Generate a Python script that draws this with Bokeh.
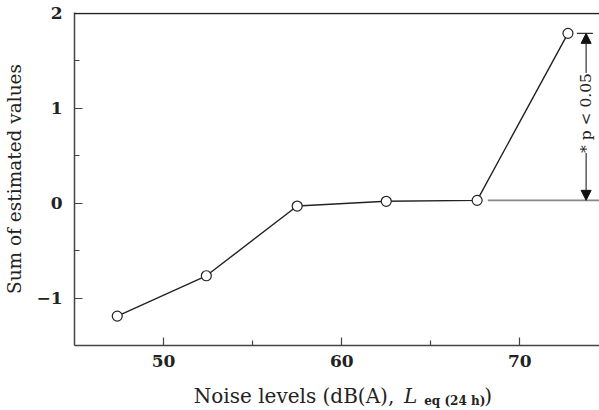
import math
from bokeh.plotting import figure
from bokeh.layouts import column
from bokeh.models import (Range1d, FixedTicker, Span, Label, Arrow, NormalHead,
                          ColumnDataSource)
from bokeh.embed import file_html
from bokeh.resources import INLINE

# ---- data ----
noise_levels = [47.4, 52.4, 57.5, 62.5, 67.6, 72.7]
sum_estimated = [-1.19, -0.765, -0.03, 0.02, 0.03, 1.79]
x_ticks = [50, 60, 70]
x_minor = [55, 65]
y_ticks = [-1, 0, 1, 2]
y_minor = [-0.5, 0.5, 1.5]
y_tick_labels = {-1: "\u22121", 0: "0", 1: "1", 2: "2"}
y_title = "Sum of estimated values"
x_title_main = "Noise levels (dB(A),"
x_title_var = "L"
x_title_sub = "eq (24 h)"
x_title_end = ")"
sig_text = "* p < 0.05"

FONT = "DejaVu Serif"
INK = "#222222"

p = figure(width=599, height=380, output_backend="svg", toolbar_location=None,
           x_range=Range1d(45, 74.47), y_range=Range1d(-1.5, 2.01),
           min_border_left=74, min_border_top=12, min_border_bottom=35,
           min_border_right=0)
p.outline_line_color = None
p.grid.visible = False

for ax in (p.xaxis[0], p.yaxis[0]):
    ax.axis_line_color = "#444444"
    ax.axis_line_width = 1.5
    ax.major_tick_line_color = "#444444"
    ax.minor_tick_line_color = "#444444"
    ax.major_tick_line_width = 1.2
    ax.minor_tick_line_width = 1.2
    ax.major_tick_in = 8
    ax.major_tick_out = 0
    ax.minor_tick_in = 5
    ax.minor_tick_out = 0
    ax.major_label_text_font = FONT
    ax.major_label_text_font_size = "17px"
    ax.major_label_text_font_style = "bold"
    ax.major_label_text_color = INK

p.xaxis[0].major_label_standoff = 9
p.yaxis[0].major_label_standoff = 12
p.xaxis[0].ticker = FixedTicker(ticks=x_ticks, minor_ticks=x_minor)
p.yaxis[0].ticker = FixedTicker(ticks=y_ticks, minor_ticks=y_minor)
p.yaxis[0].major_label_overrides = y_tick_labels
p.yaxis[0].axis_label = y_title
p.yaxis[0].axis_label_text_font = FONT
p.yaxis[0].axis_label_text_font_style = "normal"
p.yaxis[0].axis_label_text_font_size = "18.5px"
p.yaxis[0].axis_label_text_color = INK
p.yaxis[0].axis_label_standoff = 8

# top border line
p.add_layout(Span(location=2.0, dimension="width", line_color=INK, line_width=1.6))

# reference lines for the significance bracket
base_y = sum_estimated[4]
top_y = sum_estimated[5]
p.line([noise_levels[4] + 0.6, 74.47], [base_y, base_y], line_color="#888888", line_width=1.6)
p.line([noise_levels[5] + 0.5, 74.1], [top_y, top_y], line_color="#333333", line_width=1.2)

# data line and open circles
src = ColumnDataSource(dict(x=noise_levels, y=sum_estimated))
p.line("x", "y", source=src, line_color=INK, line_width=1.4)
p.scatter("x", "y", source=src, size=10, marker="circle", fill_color="white",
          line_color=INK, line_width=1.2)

# significance arrow
arrow_x = 73.72
mid_y = (base_y + top_y) / 2
for y_tip in (top_y, base_y):
    p.add_layout(Arrow(x_start=arrow_x, y_start=mid_y, x_end=arrow_x, y_end=y_tip,
                       line_color="#333333", line_width=1.2,
                       end=NormalHead(size=10, fill_color="#111111", line_color="#111111")))
p.add_layout(Label(x=arrow_x, y=0.95, text=sig_text, angle=math.pi / 2,
                   text_align="center", text_baseline="middle", text_font=FONT,
                   text_font_size="15.5px", text_color=INK,
                   background_fill_color="white", background_fill_alpha=1.0))

# x-axis title strip (italic L with subscript) sharing the x scale
t = figure(width=599, height=30, output_backend="svg", toolbar_location=None,
           x_range=p.x_range, y_range=Range1d(0, 30),
           x_axis_location=None, y_axis_location=None,
           min_border_left=74, min_border_right=0, min_border_top=0, min_border_bottom=0)
t.outline_line_color = None
t.grid.visible = False
t.add_layout(Label(x=62.95, y=14.3, text=x_title_main, text_align="right",
                   text_baseline="alphabetic", text_font=FONT, text_font_size="20px",
                   text_color=INK))
t.add_layout(Label(x=63.5, y=14.3, text=x_title_var, text_align="left",
                   text_baseline="alphabetic", text_font=FONT, text_font_style="italic",
                   text_font_size="20px", text_color=INK))
t.add_layout(Label(x=64.63, y=10, text=x_title_sub, text_align="left",
                   text_baseline="alphabetic", text_font=FONT, text_font_style="bold",
                   text_font_size="12px", text_color=INK))
t.add_layout(Label(x=68.0, y=14.3, text=x_title_end, text_align="left",
                   text_baseline="alphabetic", text_font=FONT,
                   text_font_size="20px", text_color=INK))

layout = column(p, t, spacing=0)
open("out.html", "w").write(file_html(layout, INLINE))
